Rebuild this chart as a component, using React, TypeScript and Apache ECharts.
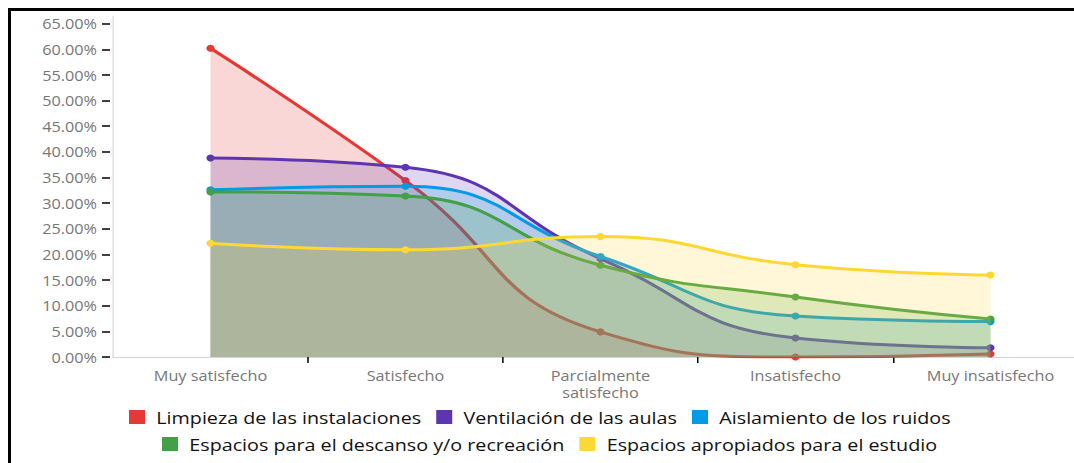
import React, { useEffect, useRef } from "react";
import * as echarts from "echarts";

const categories = [
  "Muy satisfecho",
  "Satisfecho",
  "Parcialmente\nsatisfecho",
  "Insatisfecho",
  "Muy insatisfecho",
];
const seriesNames = [
  "Limpieza de las instalaciones",
  "Ventilación de las aulas",
  "Aislamiento de los ruidos",
  "Espacios para el descanso y/o recreación",
  "Espacios apropiados para el estudio",
];
const limpieza = [60.2, 34.4, 4.9, 0.0, 0.6];
const ventilacion = [38.8, 37.0, 19.2, 3.7, 1.8];
const aislamiento = [32.6, 33.3, 19.6, 8.0, 6.9];
const descanso = [32.2, 31.4, 17.9, 11.7, 7.4];
const estudio = [22.2, 20.9, 23.5, 18.0, 16.0];
const yTicks = [0, 5, 10, 15, 20, 25, 30, 35, 40, 45, 50, 55, 60, 65];
const colors = ["#e53935", "#5e35b1", "#039be5", "#43a047", "#fdd835"];

const FONT = "'Open Sans', 'Noto Sans', sans-serif";
// the reference picture is stretched horizontally
const SX = 1.16;
const CHART_W = 948;

export default function App() {
  const ref = useRef<HTMLDivElement>(null);
  useEffect(() => {
    if (!ref.current) return;
    const chart = echarts.init(ref.current, undefined, { renderer: "svg" });
    const allData = [limpieza, ventilacion, aislamiento, descanso, estudio];
    const legendBase = {
      padding: 0,
      icon: "rect",
      itemWidth: 16 / SX,
      itemHeight: 14,
      itemGap: 15 / SX,
      textStyle: {
        fontFamily: FONT,
        fontSize: 17,
        color: "#111",
        lineHeight: 20,
        padding: [0, 0, 0, 5.5 / SX],
      },
    };
    chart.setOption({
      animation: false,
      textStyle: { fontFamily: FONT },
      grid: {
        left: 113 / SX,
        right: CHART_W - 1088 / SX,
        top: 16,
        bottom: 106,
        containLabel: false,
      },
      legend: [
        { ...legendBase, data: seriesNames.slice(0, 3), left: 129 / SX, top: 407 },
        { ...legendBase, data: seriesNames.slice(3), left: 162 / SX, top: 434 },
      ],
      xAxis: {
        type: "category",
        data: categories,
        boundaryGap: true,
        axisLine: { show: true, lineStyle: { color: "#d6d6d6", width: 1 } },
        axisTick: {
          show: true,
          length: 6,
          lineStyle: { color: "#000", width: 1.3 },
          interval: (index: number) => index !== 0,
        },
        axisLabel: {
          color: "#777",
          fontSize: 14,
          fontFamily: FONT,
          margin: 10,
          lineHeight: 17,
        },
        splitLine: { show: false },
      },
      yAxis: [
        {
          type: "value",
          min: 0,
          max: 66.5,
          offset: 3 / SX,
          axisLine: { show: false },
          axisTick: {
            show: true,
            length: 8 / SX,
            lineStyle: { color: "#000", width: 1.5 },
            customValues: yTicks,
          },
          axisLabel: {
            color: "#777",
            fontSize: 14,
            fontFamily: FONT,
            margin: 13 / SX,
            customValues: yTicks,
            formatter: (v: number) => `${v.toFixed(2)}%`,
          },
          splitLine: { show: false },
        },
        {
          type: "value",
          min: 0,
          max: 66.5,
          position: "left",
          axisLine: { show: true, lineStyle: { color: "#d6d6d6", width: 1 } },
          axisTick: { show: false },
          axisLabel: { show: false },
          splitLine: { show: false },
        },
      ],
      series: seriesNames.map((name, i) => ({
        name,
        type: "line",
        yAxisIndex: 0,
        z: 2 + i,
        data: allData[i],
        smooth: 0.5,
        symbol: "circle",
        symbolSize: 7,
        lineStyle: { color: colors[i], width: 3 },
        itemStyle: { color: colors[i] },
        areaStyle: { color: colors[i], opacity: 0.2 },
        emphasis: { disabled: true },
      })),
    });
    return () => chart.dispose();
  }, []);

  return (
    <div
      style={{
        position: "fixed",
        left: 0,
        top: 0,
        width: 1074,
        height: 463,
        overflow: "hidden",
        background: "#fff",
      }}
    >
      <div
        ref={ref}
        style={{
          position: "absolute",
          left: 0,
          top: 0,
          width: CHART_W,
          height: 463,
          transform: `scaleX(${SX})`,
          transformOrigin: "0 0",
        }}
      />
      <div
        style={{
          position: "absolute",
          left: 8,
          top: 8,
          width: 1100,
          height: 470,
          borderTop: "3px solid #000",
          borderLeft: "3px solid #000",
          pointerEvents: "none",
        }}
      />
    </div>
  );
}
